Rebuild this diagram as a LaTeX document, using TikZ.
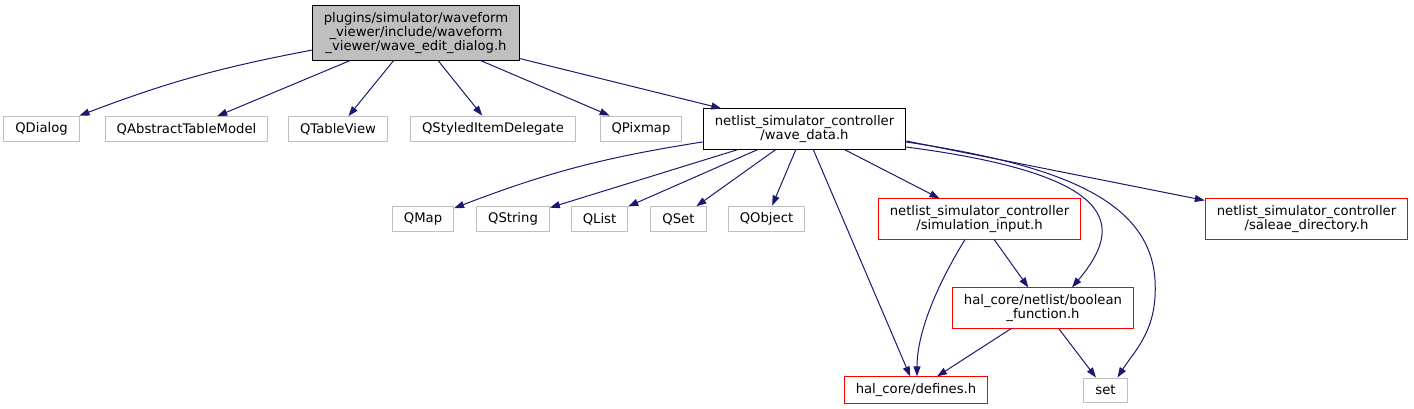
\documentclass[tikz,border=0pt]{standalone}
\usepackage{fontspec}
\setmainfont{DejaVu Sans}
\usetikzlibrary{positioning,arrows.meta,calc}
\definecolor{dgEdge}{RGB}{25,25,112}
\definecolor{dgGray}{RGB}{191,191,191}
\definecolor{dgRed}{RGB}{255,0,0}

\begin{document}
\begin{tikzpicture}[
    x=1pt, y=1pt,
    file/.style={rectangle, draw, line width=1pt, fill=white, align=center,
      font=\fontsize{13.2pt}{14pt}\selectfont, inner xsep=11.5pt, inner ysep=6.5pt,
      minimum height=24pt},
    qt class/.style={file, draw=dgGray},
    red file/.style={file, draw=dgRed},
    local file/.style={file, draw=black},
    main file/.style={file, draw=black, fill=dgGray},
    include edge/.style={draw=dgEdge, line width=1pt, -{Triangle[length=10pt,width=7pt]}}
]
  \useasboundingbox (0,0) rectangle (1414,-409);

  % the dialog header and its direct includes
  \node[main file] (root) at (416,-33)
    {plugins/simulator/waveform\\\_viewer/include/waveform\\\_viewer/wave\_edit\_dialog.h};
  \node[qt class] (qdialog) at (41.5,-129) {QDialog};
  \node[qt class] (qabstract) at (186.5,-129) {QAbstractTableModel};
  \node[qt class] (qtableview) at (338,-129) {QTableView};
  \node[qt class] (qstyled) at (493,-129) {QStyledItemDelegate};
  \node[qt class] (qpixmap) at (641,-129) {QPixmap};
  \node[local file] (wavedata) at (804.5,-129) {netlist\_simulator\_controller\\/wave\_data.h};

  % includes of wave_data.h
  \node[qt class] (qmap) at (423,-219) {QMap};
  \node[qt class] (qstring) at (513,-219) {QString};
  \node[qt class] (qlist) at (599.5,-219) {QList};
  \node[qt class] (qset) at (678.5,-219) {QSet};
  \node[qt class] (qobject) at (766.5,-219) {QObject};
  \node[red file] (siminput) at (979.5,-219) {netlist\_simulator\_controller\\/simulation\_input.h};
  \node[red file] (saleae) at (1306.5,-219) {netlist\_simulator\_controller\\/saleae\_directory.h};
  \node[red file] (boolfn) at (1043,-308) {hal\_core/netlist/boolean\\\_function.h};
  \node[red file] (defines) at (916,-390) {hal\_core/defines.h};
  \node[qt class] (hset) at (1105.5,-390) {set};

  \draw[include edge] (root) to[bend right=5] (qdialog);
  \draw[include edge] (root) -- (qabstract);
  \draw[include edge] (root) -- (qtableview);
  \draw[include edge] (root) -- (qstyled);
  \draw[include edge] (root) -- (qpixmap);
  \draw[include edge] (root) -- (wavedata);

  \draw[include edge] (wavedata) to[bend right=6] (qmap);
  \draw[include edge] (wavedata) -- (qstring);
  \draw[include edge] (wavedata) -- (qlist);
  \draw[include edge] (wavedata) -- (qset);
  \draw[include edge] (wavedata) -- (qobject);
  \draw[include edge] (wavedata) -- (defines);
  \draw[include edge] (wavedata) -- (siminput);
  \draw[include edge] ($(wavedata.east)+(0,-12)$) -- ($(saleae.north west)+(0,-2)$);
  \draw[include edge] ($(wavedata.east)+(0,-18)$)
    .. controls (1120,-175) and (1125,-225) .. ($(boolfn.north)+(29,0)$);
  \draw[include edge] ($(wavedata.east)+(0,-13)$)
    .. controls (1060,-165) and (1150,-200) .. (1155,-280)
    .. controls (1158,-330) and (1135,-350) .. ($(hset.north)+(12,0)$);

  \draw[include edge] (siminput) -- (boolfn);
  \draw[include edge] ($(siminput.south)+(-14.5,0)$)
    .. controls (940,-280) and (917,-330) .. ($(defines.north)+(1,0)$);

  \draw[include edge] (boolfn) -- (defines);
  \draw[include edge] (boolfn) -- (hset);
\end{tikzpicture}
\end{document}
